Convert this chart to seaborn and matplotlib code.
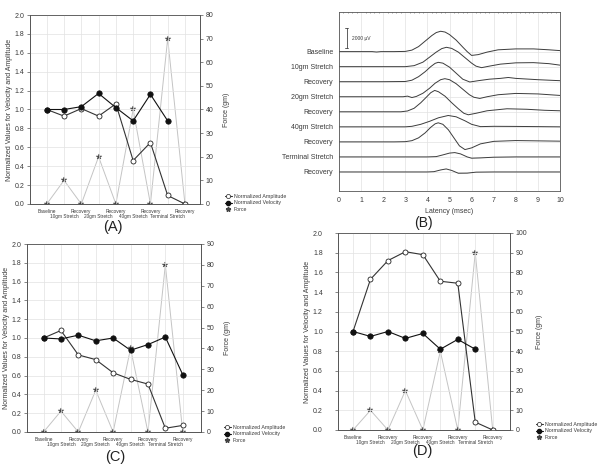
import numpy as np
import pandas as pd
import matplotlib
matplotlib.use("Agg")
import matplotlib.pyplot as plt
import seaborn as sns
from matplotlib.lines import Line2D
from matplotlib.ticker import MultipleLocator, FormatStrFormatter, FixedLocator, FixedFormatter

# ---------------- data ----------------
categories = ["Baseline", "10gm Stretch", "Recovery", "20gm Stretch", "Recovery",
              "40gm Stretch", "Recovery", "Terminal Stretch", "Recovery"]

amp_A = [1.00, 0.93, 1.01, 0.93, 1.06, 0.46, 0.65, 0.09, 0.00]
vel_A = [1.00, 1.00, 1.03, 1.17, 1.02, 0.88, 1.16, 0.88, np.nan]
force_A = [0, 10, 0, 20, 0, 40, 0, 70, 0]

amp_C = [1.00, 1.08, 0.82, 0.77, 0.63, 0.56, 0.51, 0.04, 0.07]
vel_C = [1.00, 0.99, 1.03, 0.97, 1.00, 0.87, 0.93, 1.01, 0.61]
force_C = [0, 10, 0, 20, 0, 40, 0, 80, 0]

amp_D = [1.00, 1.53, 1.72, 1.81, 1.78, 1.51, 1.49, 0.08, 0.00]
vel_D = [1.00, 0.95, 1.00, 0.93, 0.98, 0.82, 0.92, 0.82, np.nan]
force_D = [0, 10, 0, 20, 0, 40, 0, 90, 0]

# Panel B traces: latency (msec) and amplitude (uV) relative to each trace's own baseline
trace_labels = ["Baseline", "10gm Stretch", "Recovery", "20gm Stretch", "Recovery",
                "40gm Stretch", "Recovery", "Terminal Stretch", "Recovery"]
t1 = [0, 1, 1.5, 1.7, 1.9, 2.5, 3.0, 3.3, 3.6, 3.9, 4.2, 4.4, 4.6, 4.8, 5.0, 5.3, 5.6, 5.8, 6.0, 6.3, 6.7, 7.2, 8.0, 8.8, 9.5, 10]
v1 = [0, 0, 0, -40, 0, 0, 20, 150, 500, 1050, 1600, 1900, 2030, 1950, 1700, 1150, 450, 0, -380, -300, -50, 180, 270, 270, 180, 100]
t2 = [0, 1, 2, 3.0, 3.4, 3.8, 4.1, 4.4, 4.65, 4.86, 5.1, 5.4, 5.7, 6.0, 6.2, 6.45, 6.8, 7.3, 8.0, 8.8, 9.5, 10]
v2 = [0, 0, 0, 0, 100, 450, 950, 1450, 1800, 1930, 1820, 1450, 900, 350, 50, -100, 50, 250, 380, 400, 300, 150]
t3 = [0, 1, 2, 3.0, 3.3, 3.6, 3.9, 4.15, 4.35, 4.49, 4.7, 5.0, 5.3, 5.6, 5.92, 6.3, 6.8, 7.3, 7.66, 8.0, 9, 10]
v3 = [0, 0, 0, 20, 150, 500, 1000, 1500, 1830, 1930, 1850, 1450, 850, 250, -30, 100, 250, 330, 420, 330, 200, 100]
t4 = [0, 1, 2, 2.9, 3.1, 3.3, 3.5, 3.8, 4.1, 4.35, 4.6, 4.79, 5.0, 5.3, 5.6, 5.9, 6.1, 6.37, 6.7, 7.2, 8.0, 9, 10]
v4 = [0, 0, 0, 0, 60, -80, 30, 350, 850, 1350, 1700, 1800, 1700, 1300, 750, 200, -50, -170, 0, 200, 330, 280, 130]
t5 = [0, 1, 2, 2.8, 3.1, 3.4, 3.7, 3.95, 4.15, 4.33, 4.5, 4.8, 5.1, 5.4, 5.65, 5.85, 6.2, 6.7, 7.6, 8.5, 9.3, 10]
v5 = [0, 0, 0, 0, 80, 350, 900, 1450, 1900, 2130, 2000, 1550, 900, 300, -150, -300, -150, 100, 300, 250, 150, 100]
t6 = [0, 1, 2, 3, 3.3, 3.7, 4.1, 4.5, 4.94, 5.3, 5.7, 6.0, 6.4, 7, 8, 9, 10]
v6 = [0, 0, 0, 0, 50, 250, 550, 900, 1130, 1000, 600, 250, 20, 50, 40, 20, 0]
t7 = [0, 1, 2, 2.5, 3.0, 3.3, 3.6, 3.9, 4.15, 4.35, 4.49, 4.7, 4.95, 5.2, 5.45, 5.7, 6.0, 6.4, 7, 8, 9, 10]
v7 = [0, 0, 0, 0, 20, 120, 400, 900, 1450, 1800, 1900, 1750, 1200, 400, -400, -770, -600, -200, 50, 130, 100, 70]
t8 = [0, 1, 2, 3, 4, 4.4, 4.7, 5.0, 5.24, 5.5, 5.8, 6.0, 6.4, 7, 8, 9, 10]
v8 = [0, 0, 0, 0, 0, 30, 200, 380, 430, 300, 0, -130, -100, -30, 0, 0, 0]
t9 = [0, 1, 2, 3, 4, 4.3, 4.6, 4.85, 5.1, 5.4, 5.8, 6.2, 7, 8, 9, 10]
v9 = [0, 0, 0, 0, 0, 30, 200, 300, 150, -130, -120, -20, 0, 0, 0, 0]
trace_t = [t1, t2, t3, t4, t5, t6, t7, t8, t9]
trace_v = [v1, v2, v3, v4, v5, v6, v7, v8, v9]
trace_spacing = 1500  # uV between traces

# ---------------- style ----------------
sns.set_style("white")
plt.rcParams["font.family"] = ["Liberation Sans", "DejaVu Sans"]
TXT = "#3a3a3a"
SP = "#555555"

W, H = 600, 468
fig = plt.figure(figsize=(W / 100, H / 100), dpi=100)


def rect(l, t, r, b):
    return [l / W, 1 - b / H, (r - l) / W, (b - t) / H]


def style_spines(ax):
    for s in ax.spines.values():
        s.set_color(SP)
        s.set_linewidth(0.6)


def line_panel(r, amp, vel, force, fmax, xlim, leg_xy, letter, letter_xy, ypad=2, ylpad=1, rlpad=7):
    ax = fig.add_axes(rect(*r))
    axr = ax.twinx()
    x = np.arange(len(categories))
    df = pd.DataFrame({"x": x, "amp": amp, "vel": vel, "force": force})

    sns.lineplot(data=df, x="x", y="force", ax=axr, color="#c4c4c4", lw=0.7,
                 marker="*", markersize=4, markerfacecolor="#444", markeredgecolor="#444",
                 markeredgewidth=0.3, legend=False)
    sns.lineplot(data=df, x="x", y="amp", ax=ax, color="#333", lw=0.8,
                 marker="o", markersize=3.6, markerfacecolor="white", markeredgecolor="#222",
                 markeredgewidth=0.6, legend=False)
    sns.lineplot(data=df.dropna(subset=["vel"]), x="x", y="vel", ax=ax, color="#111", lw=0.8,
                 marker="o", markersize=3.9, markerfacecolor="#111", markeredgecolor="#111",
                 markeredgewidth=0.5, legend=False)

    ax.set_zorder(axr.get_zorder() + 1)
    ax.patch.set_visible(False)

    ax.set_xlim(*xlim)
    ax.set_ylim(0, 2.0)
    axr.set_ylim(0, fmax)
    ax.yaxis.set_major_locator(MultipleLocator(0.2))
    ax.yaxis.set_major_formatter(FormatStrFormatter("%.1f"))
    axr.yaxis.set_major_locator(MultipleLocator(10))
    # two staggered rows of category labels: even on major ticks, odd on minor ticks
    even = [i for i in x if i % 2 == 0]
    odd = [i for i in x if i % 2 == 1]
    ax.xaxis.set_major_locator(FixedLocator(even))
    ax.xaxis.set_major_formatter(FixedFormatter([categories[i] for i in even]))
    ax.xaxis.set_minor_locator(FixedLocator(odd))
    ax.xaxis.set_minor_formatter(FixedFormatter([categories[i] for i in odd]))
    ax.tick_params(axis="x", which="major", labelsize=3.4, labelcolor=TXT, length=2, width=0.5,
                   color=SP, pad=1.5)
    ax.tick_params(axis="x", which="minor", labelsize=3.4, labelcolor=TXT, length=2, width=0.5,
                   color=SP, pad=5.5)
    ax.set_xlabel("")
    ax.set_ylabel("Normalized Values for Velocity and Amplitude", fontsize=5, color=TXT, labelpad=ylpad)
    axr.set_ylabel("Force (gm)", fontsize=5, color=TXT, labelpad=rlpad)
    axr.set_xlabel("")
    ax.tick_params(axis="y", labelsize=5, labelcolor=TXT, length=2, width=0.5, color=SP, pad=ypad)
    axr.tick_params(axis="y", labelsize=5, labelcolor=TXT, length=2, width=0.5, color=SP, pad=2)
    ax.grid(True, which="both", axis="x", color="#e2e2e2", lw=0.5)
    ax.grid(True, which="major", axis="y", color="#e2e2e2", lw=0.5)
    ax.set_axisbelow(True)
    style_spines(ax)
    style_spines(axr)

    handles = [
        Line2D([], [], color="#333", lw=0.8, marker="o", markersize=3, markerfacecolor="white",
               markeredgecolor="#222", markeredgewidth=0.5),
        Line2D([], [], color="#111", lw=0.8, marker="o", markersize=3, markerfacecolor="#111",
               markeredgecolor="#111"),
        Line2D([], [], color="#c4c4c4", lw=0, marker="*", markersize=3.5, markerfacecolor="#444",
               markeredgecolor="#444"),
    ]
    labels = ["Normalized Amplitude", "Normalized Velocity", "Force"]
    fig.legend(handles, labels, loc="upper left",
               bbox_to_anchor=(leg_xy[0] / W, 1 - leg_xy[1] / H),
               frameon=False, fontsize=3.8, handlelength=1.4, handletextpad=0.3,
               labelspacing=0.35, borderpad=0, labelcolor=TXT)
    fig.text(letter_xy[0] / W, 1 - letter_xy[1] / H, letter, ha="center", va="center",
             fontsize=10.5, color="#222")
    return ax


# Panel A
line_panel((30, 15, 200, 204), amp_A, vel_A, force_A, 80, (-0.97, 8.87),
           (222, 191), "(A)", (113, 227))
# Panel C
line_panel((27, 244, 201, 432), amp_C, vel_C, force_C, 90, (-0.95, 9.05),
           (221, 422), "(C)", (115, 457))
# Panel D
line_panel((338, 233, 510, 430), amp_D, vel_D, force_D, 100, (-0.86, 8.99),
           (533, 419), "(D)", (422, 451), ypad=9, ylpad=1, rlpad=6)

# Panel B
axB = fig.add_axes(rect(339, 12, 560, 191))
top_uv = 3950
axB.set_ylim(-13900, top_uv)
axB.set_xlim(0, 10)
for i, (tt, vv) in enumerate(zip(trace_t, trace_v)):
    dft = pd.DataFrame({"t": tt, "v": np.array(vv) - trace_spacing * i})
    sns.lineplot(data=dft, x="t", y="v", ax=axB, color="#3c3c3c", lw=0.7, sort=False,
                 estimator=None, legend=False)
axB.set_yticks([-trace_spacing * i for i in range(len(trace_labels))])
axB.set_yticklabels(trace_labels, fontsize=5, color=TXT)
axB.set_xticks(range(11))
axB.tick_params(axis="x", labelsize=5, labelcolor=TXT, length=2, width=0.5, color=SP, pad=2)
axB.tick_params(axis="y", length=2, width=0.5, color=SP, pad=2)
axB.xaxis.set_minor_locator(MultipleLocator(0.2))
axB.tick_params(axis="x", which="minor", length=1, width=0.4, color=SP, top=True, direction="in")
axB.grid(True, which="major", color="#e2e2e2", lw=0.5)
axB.set_axisbelow(True)
axB.set_xlabel("Latency (msec)", fontsize=5, color=TXT, labelpad=3)
axB.set_ylabel("")
style_spines(axB)
# scale bar
bar_x, bar_top, bar_bot = 0.34, 2350, 350
axB.plot([bar_x, bar_x], [bar_bot, bar_top], color="#444", lw=0.6)
axB.plot([bar_x - 0.05, bar_x + 0.05], [bar_top, bar_top], color="#444", lw=0.6)
axB.plot([bar_x - 0.05, bar_x + 0.05], [bar_bot, bar_bot], color="#444", lw=0.6)
axB.text(0.6, 1350, "2000 \u00b5V", fontsize=3.5, color=TXT, va="center")
fig.text(423 / W, 1 - 223 / H, "(B)", ha="center", va="center", fontsize=10, color="#222")

fig.savefig("out.png", dpi=100, facecolor="white")
